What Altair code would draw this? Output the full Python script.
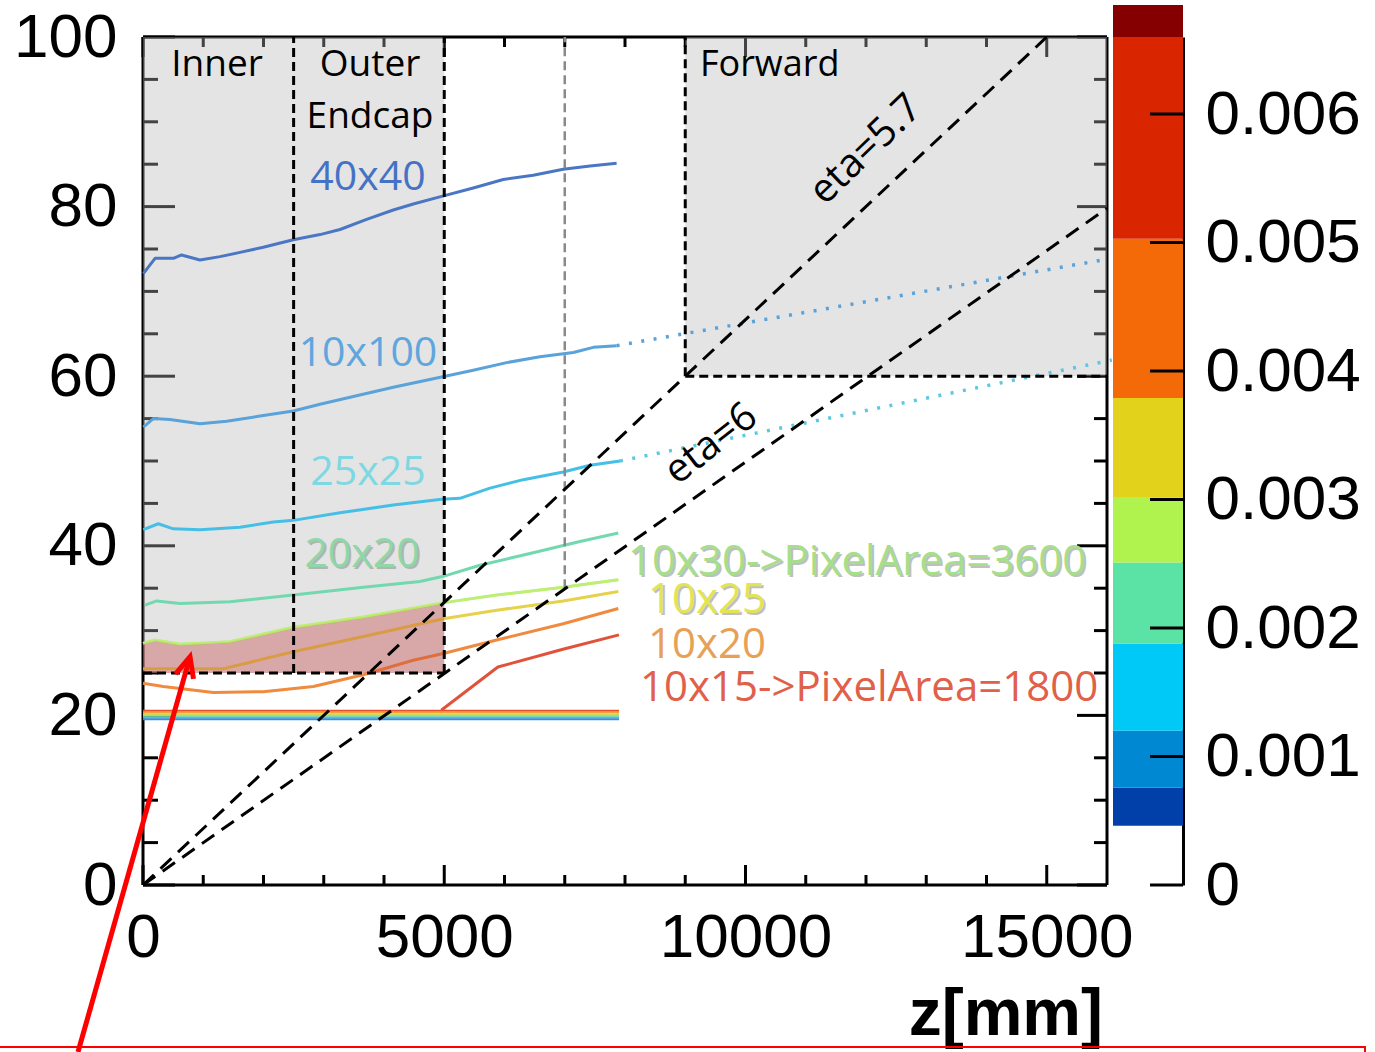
import altair as alt
import pandas as pd

# ---------------- data ----------------
series_names = ["40x40", "10x100", "25x25", "20x20", "10x30", "10x25", "10x20", "10x15"]
series_colors = ["#4A76C4", "#5AA2DA", "#45BFE6", "#72D8B0", "#BDEF76", "#E6D24A", "#F08A3E", "#E0533A"]

z_40x40 = [5, 200, 503, 640, 946, 1278, 1610, 1997, 2495, 2938, 3270, 3712, 4154, 4486, 4956, 5481, 5979, 6477, 6975, 7419, 7861]
r_40x40 = [72.1, 73.9, 73.9, 74.3, 73.7, 74.1, 74.6, 75.2, 76.1, 76.7, 77.3, 78.5, 79.6, 80.3, 81.2, 82.2, 83.2, 83.7, 84.4, 84.8, 85.1]
z_10x100 = [5, 171, 448, 946, 1389, 1942, 2495, 2938, 3491, 4154, 4956, 5481, 6035, 6589, 7142, 7474, 7861]
r_10x100 = [54.0, 55.0, 54.9, 54.4, 54.7, 55.3, 55.9, 56.7, 57.6, 58.7, 59.9, 60.7, 61.6, 62.3, 62.8, 63.4, 63.6]
z_25x25 = [5, 254, 503, 946, 1610, 2163, 2495, 3270, 4154, 4956, 5260, 5759, 6312, 6975, 7419, 7917]
r_25x25 = [41.9, 42.6, 42.0, 41.9, 42.2, 42.8, 43.0, 43.9, 44.8, 45.5, 45.6, 46.8, 47.8, 48.7, 49.5, 50.0]
z_20x20 = [33, 227, 614, 1444, 2495, 3657, 4597, 4984, 5593, 6423, 7253, 7889]
r_20x20 = [33.0, 33.5, 33.2, 33.4, 34.2, 35.1, 35.8, 36.4, 37.7, 39.1, 40.5, 41.5]
z_10x30 = [0, 199, 614, 1444, 2495, 3657, 5000, 5870, 6975, 7889]
r_10x30 = [28.5, 28.9, 28.4, 28.7, 30.4, 31.6, 33.3, 34.2, 35.1, 36.0]
z_10x25 = [0, 1333, 2495, 3657, 4984, 5870, 6975, 7889]
r_10x25 = [25.5, 25.5, 27.5, 29.3, 31.4, 32.4, 33.5, 34.6]
z_10x20 = [0, 337, 1167, 1997, 2827, 3657, 4486, 4984, 5870, 6975, 7889]
r_10x20 = [23.8, 23.4, 22.7, 22.8, 23.4, 24.8, 26.5, 27.3, 28.9, 30.8, 32.6]
z_10x15 = [4950, 5890, 6970, 7900]
r_10x15 = [20.6, 25.7, 27.8, 29.5]

series_z = [z_40x40, z_10x100, z_25x25, z_20x20, z_10x30, z_10x25, z_10x20, z_10x15]
series_r = [r_40x40, r_10x100, r_25x25, r_20x20, r_10x30, r_10x25, r_10x20, r_10x15]

# dotted extrapolations into the forward region
ext_names = ["10x100", "25x25"]
ext_colors = ["#5AA2DA", "#5CC8E2"]
ext_z = [[7861, 16000], [7917, 16080]]
ext_r = [[63.6, 73.8], [50.0, 61.9]]

# thin bundle of curves around r = 20
band_r = [20.55, 20.35, 20.15, 19.95, 19.75, 19.55]
band_colors = ["#E8502E", "#F4A03C", "#E6D34A", "#9CE276", "#3FC6E6", "#3C8ED8"]
band_z = [0, 7900]

# detector regions (grey boxes) z1, z2, r1, r2
reg_z1 = [0, 9000]
reg_z2 = [5000, 16000]
reg_r1 = [25, 60]
reg_r2 = [100, 100]

# region borders (dashed)
border_z1 = [2500, 5000, 0, 9000, 9000]
border_z2 = [2500, 5000, 5000, 9000, 16000]
border_r1 = [25, 25, 25, 60, 60]
border_r2 = [100, 100, 25, 100, 60]
grey_border = [7000, 7000, 35, 100]

# eta lines from origin
eta_z2 = [15000, 16000]
eta_r2 = [100, 79.8]
eta_text = ["eta=5.7", "eta=6"]
eta_tz = [12000, 9428]
eta_tr = [86.7, 52.0]
eta_angle = [316, 322]

# labels
lab_text = ["Inner", "Outer", "Endcap", "Forward", "40x40", "10x100", "25x25", "20x20",
            "10x30->PixelArea=3600", "10x25", "10x20", "10x15->PixelArea=1800"]
lab_z = [1228, 3768, 3768, 9243, 3734, 3734, 3734, 3635, 8050, 8382, 8382, 8249]
lab_r = [96.7, 96.7, 90.6, 96.7, 83.4, 62.6, 48.6, 38.9, 38.1, 33.6, 28.3, 23.2]
lab_color = ["black", "black", "black", "black", "#4472C4", "#5FA6DE", "#7DD8E2", "#8ED8A8",
             "#A6DF8A", "#E2E454", "#E8A055", "#E0604A"]
lab_shadow = [0, 0, 0, 0, 0, 0, 0, 1, 1, 1, 0, 0]

# colour bar
cb_lo = [0.000461, 0.000757, 0.0012, 0.00188, 0.00251, 0.00302, 0.00379, 0.00503, 0.0066]
cb_hi = [0.000757, 0.0012, 0.00188, 0.00251, 0.00302, 0.00379, 0.00503, 0.0066, 0.00685]
cb_colors = ["#0040A8", "#0088D2", "#00C8F7", "#5AE3A4", "#B0F24E", "#E3D21B", "#F46A08", "#D92600", "#850000"]
cb_ticks = [0, 0.001, 0.002, 0.003, 0.004, 0.005, 0.006]

x_major = [0, 5000, 10000, 15000]
x_minor = [1000, 2000, 3000, 4000, 6000, 7000, 8000, 9000, 11000, 12000, 13000, 14000]
y_major = [0, 20, 40, 60, 80, 100]
y_minor = [5, 10, 15, 25, 30, 35, 45, 50, 55, 65, 70, 75, 85, 90, 95]

# red annotation arrow (data coordinates)
arrow_z = [-1079, 780]
arrow_r = [-19.7, 26.9]
head_z = [541, 780, 838]
head_r = [24.9, 26.9, 24.3]
box_z = [-2400, 20282, 20282]
box_r = [-19.1, -19.1, -20.0]

# ---------------- layout ----------------
Z_MAX, R_MAX = 16000, 100
PW, PH = 964, 848
ZPP = Z_MAX / PW
RPP = R_MAX / PH

xs = alt.Scale(domain=[0, Z_MAX], nice=False, zero=False)
ys = alt.Scale(domain=[0, R_MAX], nice=False, zero=False)
FONT = "Liberation Sans"
TFONT = "Open Sans"

xaxis = alt.Axis(values=x_major, format="d", labelFont=FONT, labelFontSize=62, labelPadding=22,
                 ticks=False, tickSize=0, domain=False, grid=False, title=None,
                 labelFlush=False, labelOverlap=False, labelColor="black")
yaxis = alt.Axis(values=y_major, format="d", labelFont=FONT, labelFontSize=62, labelPadding=26,
                 ticks=False, tickSize=0, domain=False, grid=False, title=None,
                 labelOverlap=False, labelColor="black")


def X(f):
    return alt.X(f, scale=xs, axis=xaxis)


def Y(f):
    return alt.Y(f, scale=ys, axis=yaxis)


# frame + inward ticks
seg = []
for a in [(0, 0, Z_MAX, 0), (0, R_MAX, Z_MAX, R_MAX), (0, 0, 0, R_MAX), (Z_MAX, 0, Z_MAX, R_MAX)]:
    seg.append(dict(z1=a[0], r1=a[1], z2=a[2], r2=a[3]))
for v in y_major:
    seg.append(dict(z1=0, r1=v, z2=32 * ZPP, r2=v))
    seg.append(dict(z1=Z_MAX, r1=v, z2=Z_MAX - 30 * ZPP, r2=v))
for v in y_minor:
    seg.append(dict(z1=0, r1=v, z2=15 * ZPP, r2=v))
    seg.append(dict(z1=Z_MAX, r1=v, z2=Z_MAX - 13 * ZPP, r2=v))
for v in x_major:
    seg.append(dict(z1=v, r1=0, z2=v, r2=20 * RPP))
    seg.append(dict(z1=v, r1=R_MAX, z2=v, r2=R_MAX - 20 * RPP))
for v in x_minor:
    seg.append(dict(z1=v, r1=0, z2=v, r2=10 * RPP))
    seg.append(dict(z1=v, r1=R_MAX, z2=v, r2=R_MAX - 10 * RPP))
frame_df = pd.DataFrame(seg)

frame = alt.Chart(frame_df).mark_rule(color="black", strokeWidth=3).encode(
    x=X("z1:Q"), x2="z2:Q", y=Y("r1:Q"), y2="r2:Q")

reg_df = pd.DataFrame(dict(z1=reg_z1, z2=reg_z2, r1=reg_r1, r2=reg_r2))
regions = alt.Chart(reg_df).mark_rect(color="#B6B6B6", opacity=0.37).encode(
    x=X("z1:Q"), x2="z2:Q", y=Y("r1:Q"), y2="r2:Q")

rows = []
for n, zz, rr in zip(series_names, series_z, series_r):
    for i, (a, b) in enumerate(zip(zz, rr)):
        rows.append(dict(series=n, z=a, r=b, i=i))
lines_df = pd.DataFrame(rows)
color_scale = alt.Scale(domain=series_names, range=series_colors)

lines = alt.Chart(lines_df).mark_line(strokeWidth=3, strokeJoin="round").encode(
    x=X("z:Q"), y=Y("r:Q"),
    color=alt.Color("series:N", scale=color_scale, legend=None),
    detail="series:N", order="i:Q")

brows = []
for v, c in zip(band_r, band_colors):
    for a in band_z:
        brows.append(dict(z=a, r=v, c=c, key=c))
band = alt.Chart(pd.DataFrame(brows)).mark_line(strokeWidth=2).encode(
    x=X("z:Q"), y=Y("r:Q"), color=alt.Color("c:N", scale=None), detail="key:N")

erows = []
for n, c, zz, rr in zip(ext_names, ext_colors, ext_z, ext_r):
    for a, b in zip(zz, rr):
        erows.append(dict(z=a, r=b, c=c, key=n))
ext = alt.Chart(pd.DataFrame(erows)).mark_line(strokeWidth=3.5, strokeDash=[3, 9.5]).encode(
    x=X("z:Q"), y=Y("r:Q"), color=alt.Color("c:N", scale=None), detail="key:N")

area_df = pd.DataFrame(dict(z=[a for a in z_10x30 if a <= 5000],
                            r=[b for a, b in zip(z_10x30, r_10x30) if a <= 5000]))
area_df["base"] = 25
shade = alt.Chart(area_df).mark_area(color="#C23C3C", opacity=0.36).encode(
    x=X("z:Q"), y=Y("r:Q"), y2="base:Q")

top_line = alt.Chart(lines_df[lines_df.series == "10x30"]).mark_line(
    strokeWidth=2.5, color="#BDEF76", opacity=0.8).encode(x=X("z:Q"), y=Y("r:Q"), order="i:Q")

bord_df = pd.DataFrame(dict(z1=border_z1, z2=border_z2, r1=border_r1, r2=border_r2))
borders = alt.Chart(bord_df).mark_rule(color="black", strokeWidth=3, strokeDash=[9, 5]).encode(
    x=X("z1:Q"), x2="z2:Q", y=Y("r1:Q"), y2="r2:Q")
gb_df = pd.DataFrame([dict(z1=grey_border[0], z2=grey_border[1], r1=grey_border[2], r2=grey_border[3])])
gborder = alt.Chart(gb_df).mark_rule(color="#8A8A8A", strokeWidth=2.5, strokeDash=[9, 5]).encode(
    x=X("z1:Q"), x2="z2:Q", y=Y("r1:Q"), y2="r2:Q")

eta_df = pd.DataFrame(dict(z1=[0, 0], r1=[0, 0], z2=eta_z2, r2=eta_r2))
etas = alt.Chart(eta_df).mark_rule(color="black", strokeWidth=3, strokeDash=[15, 9]).encode(
    x=X("z1:Q"), x2="z2:Q", y=Y("r1:Q"), y2="r2:Q")

eta_t_df = pd.DataFrame(dict(t=eta_text, z=eta_tz, r=eta_tr, a=eta_angle))
eta_labels = alt.Chart(eta_t_df).mark_text(font=TFONT, fontSize=40, color="black",
                                           align="center", baseline="middle").encode(
    x=X("z:Q"), y=Y("r:Q"), text="t:N", angle=alt.Angle("a:Q", scale=None))

lab_df = pd.DataFrame(dict(t=lab_text, z=lab_z, r=lab_r, c=lab_color, s=lab_shadow,
                           k=list(range(len(lab_text)))))


def text_layer(idx, align, size, shadow=False):
    d = lab_df[lab_df.k.isin(idx)]
    if shadow:
        d = d[d.s == 1]
        return alt.Chart(d).mark_text(font=TFONT, fontSize=size, align=align, baseline="middle",
                                      dx=2, dy=2, color="#8C8C8C", opacity=0.55).encode(
            x=X("z:Q"), y=Y("r:Q"), text="t:N")
    return alt.Chart(d).mark_text(font=TFONT, fontSize=size, align=align, baseline="middle").encode(
        x=X("z:Q"), y=Y("r:Q"), text="t:N", color=alt.Color("c:N", scale=None))


t_region = text_layer([0, 1, 2], "center", 37)
t_fwd = text_layer([3], "left", 36)
t_c_sh = text_layer([4, 5, 6, 7], "center", 41, shadow=True)
t_c = text_layer([4, 5, 6, 7], "center", 41)
t_l_sh = text_layer([8, 9, 10, 11], "left", 42, shadow=True)
t_l = text_layer([8, 9, 10, 11], "left", 42)

ztitle = alt.Chart(pd.DataFrame(dict(t=["z[mm]"], z=[15934], r=[-15.3]))).mark_text(
    font=FONT, fontSize=66, fontWeight="bold", align="right", baseline="middle", color="black").encode(
    x=X("z:Q"), y=Y("r:Q"), text="t:N")

arrow = alt.Chart(pd.DataFrame(dict(z=arrow_z, r=arrow_r, i=[0, 1]))).mark_line(
    color="#FF0000", strokeWidth=5).encode(x=X("z:Q"), y=Y("r:Q"), order="i:Q")
head = alt.Chart(pd.DataFrame(dict(z=head_z, r=head_r, i=[0, 1, 2]))).mark_line(
    color="#FF0000", strokeWidth=5, strokeJoin="miter").encode(x=X("z:Q"), y=Y("r:Q"), order="i:Q")
box = alt.Chart(pd.DataFrame(dict(z=box_z, r=box_r, i=[0, 1, 2]))).mark_line(
    color="#FF0000", strokeWidth=2).encode(x=X("z:Q"), y=Y("r:Q"), order="i:Q")

main = alt.layer(frame, regions, lines, band, ext, shade, top_line, gborder, borders, etas,
                 eta_labels, t_region, t_fwd, t_c_sh, t_c, t_l_sh, t_l, ztitle, arrow, head, box)

# colour bar with its own scale
cbs = alt.Scale(domain=[0, 0.0066], nice=False, zero=False)
cbaxis = alt.Axis(orient="right", offset=76, values=cb_ticks,
                  labelExpr="datum.value == 0 ? '0' : format(datum.value, '.3f')",
                  domain=True, domainColor="black", domainWidth=3, ticks=False, tickSize=0,
                  grid=False, title=None, labelFont=FONT, labelFontSize=62, labelPadding=22,
                  labelOverlap=False, labelColor="black")
cb_df = pd.DataFrame(dict(lo=cb_lo, hi=cb_hi, c=cb_colors))
cbar = alt.Chart(cb_df).mark_rect().encode(
    x=alt.value(970), x2=alt.value(1040),
    y=alt.Y("lo:Q", scale=cbs, axis=cbaxis), y2="hi:Q",
    color=alt.Color("c:N", scale=None))
cb_t = alt.Chart(pd.DataFrame(dict(v=cb_ticks))).mark_rule(color="black", strokeWidth=3).encode(
    x=alt.value(1007), x2=alt.value(1040), y=alt.Y("v:Q", scale=cbs, axis=cbaxis))
cbl = alt.layer(cbar, cb_t)

chart = alt.layer(main, cbl).resolve_scale(y="independent").properties(
    width=PW, height=PH,
    padding={"left": 143, "top": 37, "right": 268, "bottom": 167},
    autosize=alt.AutoSizeParams(type="none"),
    background="white",
).configure_view(stroke=None)

chart.save("out.html", embed_options={"renderer": "svg", "actions": False})
